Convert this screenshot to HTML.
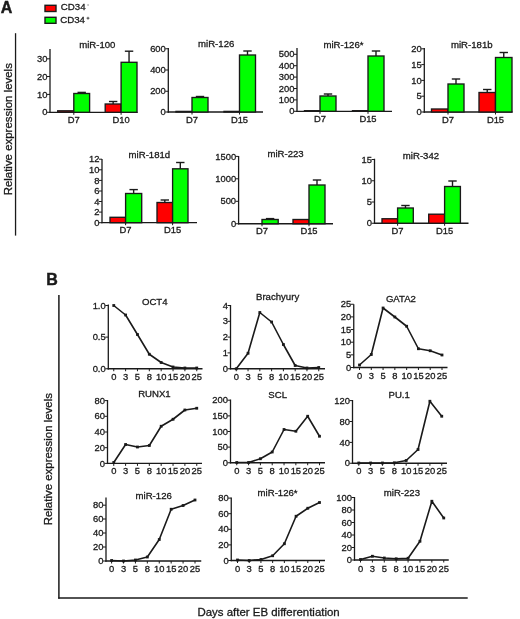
<!DOCTYPE html>
<html><head><meta charset="utf-8"><style>
html,body{margin:0;padding:0;background:#fff;}
body{width:520px;height:619px;overflow:hidden;}
svg{display:block;will-change:transform;filter:blur(0.35px);}
text{font-family:"Liberation Sans", sans-serif;fill:#1a1a1a;stroke:#1a1a1a;stroke-width:0.3px;}
</style></head><body>
<svg width="520" height="619" viewBox="0 0 520 619">
<text x="0.8" y="12.6" font-size="16" text-anchor="start" font-weight="bold" style="stroke-width:0.45px">A</text>
<rect x="45" y="5.3" width="11" height="6.2" fill="#ff0000" stroke="#1a1a1a" stroke-width="1.4"/>
<rect x="45" y="17.3" width="11" height="6.0" fill="#00ff00" stroke="#1a1a1a" stroke-width="1.4"/>
<text x="60.8" y="10.4" font-size="9.7" text-anchor="start" font-weight="normal" >CD34</text>
<text x="60.2" y="23.4" font-size="9.7" text-anchor="start" font-weight="normal" >CD34</text>
<line x1="87.2" y1="5.0" x2="89.0" y2="5.0" stroke="#888" stroke-width="0.9"/>
<line x1="86.6" y1="18.2" x2="89.4" y2="18.2" stroke="#444" stroke-width="1.0"/>
<line x1="88.0" y1="16.8" x2="88.0" y2="19.6" stroke="#444" stroke-width="1.0"/>
<line x1="15.55" y1="33.2" x2="15.55" y2="235.6" stroke="#1a1a1a" stroke-width="1.3"/>
<text x="0" y="0" font-size="11.45" text-anchor="middle" font-weight="normal" transform="translate(12,129.25) rotate(-90)">Relative expression levels</text>
<line x1="50" y1="49" x2="50" y2="112.95" stroke="#1a1a1a" stroke-width="1.3"/>
<line x1="49.35" y1="112.3" x2="137.5" y2="112.3" stroke="#1a1a1a" stroke-width="1.3"/>
<line x1="47" y1="112.3" x2="50" y2="112.3" stroke="#1a1a1a" stroke-width="1.0"/>
<text x="47.5" y="115.39999999999999" font-size="9.4" text-anchor="end" font-weight="normal" >0</text>
<line x1="47" y1="94.4" x2="50" y2="94.4" stroke="#1a1a1a" stroke-width="1.0"/>
<text x="47.5" y="97.5" font-size="9.4" text-anchor="end" font-weight="normal" >10</text>
<line x1="47" y1="76.5" x2="50" y2="76.5" stroke="#1a1a1a" stroke-width="1.0"/>
<text x="47.5" y="79.6" font-size="9.4" text-anchor="end" font-weight="normal" >20</text>
<line x1="47" y1="58.8" x2="50" y2="58.8" stroke="#1a1a1a" stroke-width="1.0"/>
<text x="47.5" y="61.9" font-size="9.4" text-anchor="end" font-weight="normal" >30</text>
<text x="97.3" y="48.4" font-size="9.6" text-anchor="middle" font-weight="normal" >miR-100</text>
<rect x="57.7" y="110.8" width="16.099999999999994" height="1.5" fill="#ff0000" stroke="#1a1a1a" stroke-width="1.35"/>
<rect x="73.8" y="93.5" width="15.799999999999997" height="18.799999999999997" fill="#00ff00" stroke="#1a1a1a" stroke-width="1.35"/>
<line x1="81.69999999999999" y1="93.5" x2="81.69999999999999" y2="92.4" stroke="#1a1a1a" stroke-width="1.4"/>
<line x1="77.49999999999999" y1="92.4" x2="85.89999999999999" y2="92.4" stroke="#1a1a1a" stroke-width="1.4"/>
<line x1="73.8" y1="112.3" x2="73.8" y2="114.8" stroke="#1a1a1a" stroke-width="1.0"/>
<text x="73.8" y="122.7" font-size="9.4" text-anchor="middle" font-weight="normal" >D7</text>
<rect x="105.2" y="104.0" width="15.899999999999991" height="8.299999999999997" fill="#ff0000" stroke="#1a1a1a" stroke-width="1.35"/>
<line x1="113.15" y1="104.0" x2="113.15" y2="101.5" stroke="#1a1a1a" stroke-width="1.4"/>
<line x1="108.95" y1="101.5" x2="117.35000000000001" y2="101.5" stroke="#1a1a1a" stroke-width="1.4"/>
<rect x="121.1" y="62.3" width="15.900000000000006" height="50.0" fill="#00ff00" stroke="#1a1a1a" stroke-width="1.35"/>
<line x1="129.05" y1="62.3" x2="129.05" y2="51.2" stroke="#1a1a1a" stroke-width="1.4"/>
<line x1="124.85000000000001" y1="51.2" x2="133.25" y2="51.2" stroke="#1a1a1a" stroke-width="1.4"/>
<line x1="121.1" y1="112.3" x2="121.1" y2="114.8" stroke="#1a1a1a" stroke-width="1.0"/>
<text x="121.1" y="122.7" font-size="9.4" text-anchor="middle" font-weight="normal" >D10</text>
<line x1="168.3" y1="48" x2="168.3" y2="112.65" stroke="#1a1a1a" stroke-width="1.3"/>
<line x1="167.65" y1="112.0" x2="263" y2="112.0" stroke="#1a1a1a" stroke-width="1.3"/>
<line x1="165.3" y1="112" x2="168.3" y2="112" stroke="#1a1a1a" stroke-width="1.0"/>
<text x="165.8" y="115.1" font-size="9.4" text-anchor="end" font-weight="normal" >0</text>
<line x1="165.3" y1="91.25" x2="168.3" y2="91.25" stroke="#1a1a1a" stroke-width="1.0"/>
<text x="165.8" y="94.35" font-size="9.4" text-anchor="end" font-weight="normal" >200</text>
<line x1="165.3" y1="70" x2="168.3" y2="70" stroke="#1a1a1a" stroke-width="1.0"/>
<text x="165.8" y="73.1" font-size="9.4" text-anchor="end" font-weight="normal" >400</text>
<line x1="165.3" y1="48.75" x2="168.3" y2="48.75" stroke="#1a1a1a" stroke-width="1.0"/>
<text x="165.8" y="51.85" font-size="9.4" text-anchor="end" font-weight="normal" >600</text>
<text x="216.2" y="47" font-size="9.6" text-anchor="middle" font-weight="normal" >miR-126</text>
<rect x="176" y="111.4" width="16" height="0.5999999999999943" fill="#ff0000" stroke="#1a1a1a" stroke-width="1.35"/>
<rect x="192" y="97.5" width="16" height="14.5" fill="#00ff00" stroke="#1a1a1a" stroke-width="1.35"/>
<line x1="200.0" y1="97.5" x2="200.0" y2="96.5" stroke="#1a1a1a" stroke-width="1.4"/>
<line x1="195.8" y1="96.5" x2="204.2" y2="96.5" stroke="#1a1a1a" stroke-width="1.4"/>
<line x1="192" y1="112.0" x2="192" y2="114.5" stroke="#1a1a1a" stroke-width="1.0"/>
<text x="192" y="122.7" font-size="9.4" text-anchor="middle" font-weight="normal" >D7</text>
<rect x="224" y="111.4" width="15.5" height="0.5999999999999943" fill="#ff0000" stroke="#1a1a1a" stroke-width="1.35"/>
<rect x="239.5" y="55" width="16.0" height="57.0" fill="#00ff00" stroke="#1a1a1a" stroke-width="1.35"/>
<line x1="247.5" y1="55" x2="247.5" y2="51" stroke="#1a1a1a" stroke-width="1.4"/>
<line x1="243.3" y1="51" x2="251.7" y2="51" stroke="#1a1a1a" stroke-width="1.4"/>
<line x1="239.5" y1="112.0" x2="239.5" y2="114.5" stroke="#1a1a1a" stroke-width="1.0"/>
<text x="239.5" y="122.7" font-size="9.4" text-anchor="middle" font-weight="normal" >D15</text>
<line x1="297" y1="48" x2="297" y2="111.95" stroke="#1a1a1a" stroke-width="1.3"/>
<line x1="296.35" y1="111.3" x2="392" y2="111.3" stroke="#1a1a1a" stroke-width="1.3"/>
<line x1="294" y1="111.3" x2="297" y2="111.3" stroke="#1a1a1a" stroke-width="1.0"/>
<text x="294.5" y="114.39999999999999" font-size="9.4" text-anchor="end" font-weight="normal" >0</text>
<line x1="294" y1="99.9" x2="297" y2="99.9" stroke="#1a1a1a" stroke-width="1.0"/>
<text x="294.5" y="103.0" font-size="9.4" text-anchor="end" font-weight="normal" >100</text>
<line x1="294" y1="88.5" x2="297" y2="88.5" stroke="#1a1a1a" stroke-width="1.0"/>
<text x="294.5" y="91.6" font-size="9.4" text-anchor="end" font-weight="normal" >200</text>
<line x1="294" y1="77.1" x2="297" y2="77.1" stroke="#1a1a1a" stroke-width="1.0"/>
<text x="294.5" y="80.19999999999999" font-size="9.4" text-anchor="end" font-weight="normal" >300</text>
<line x1="294" y1="65.7" x2="297" y2="65.7" stroke="#1a1a1a" stroke-width="1.0"/>
<text x="294.5" y="68.8" font-size="9.4" text-anchor="end" font-weight="normal" >400</text>
<line x1="294" y1="54.3" x2="297" y2="54.3" stroke="#1a1a1a" stroke-width="1.0"/>
<text x="294.5" y="57.4" font-size="9.4" text-anchor="end" font-weight="normal" >500</text>
<text x="343.5" y="48" font-size="9.6" text-anchor="middle" font-weight="normal" >miR-126*</text>
<rect x="304.5" y="110.7" width="15.5" height="0.5999999999999943" fill="#ff0000" stroke="#1a1a1a" stroke-width="1.35"/>
<rect x="320" y="96" width="16" height="15.299999999999997" fill="#00ff00" stroke="#1a1a1a" stroke-width="1.35"/>
<line x1="328.0" y1="96" x2="328.0" y2="94" stroke="#1a1a1a" stroke-width="1.4"/>
<line x1="323.8" y1="94" x2="332.2" y2="94" stroke="#1a1a1a" stroke-width="1.4"/>
<line x1="320" y1="111.3" x2="320" y2="113.8" stroke="#1a1a1a" stroke-width="1.0"/>
<text x="320" y="122.0" font-size="9.4" text-anchor="middle" font-weight="normal" >D7</text>
<rect x="352.5" y="110.7" width="15.5" height="0.5999999999999943" fill="#ff0000" stroke="#1a1a1a" stroke-width="1.35"/>
<rect x="368" y="56" width="16" height="55.3" fill="#00ff00" stroke="#1a1a1a" stroke-width="1.35"/>
<line x1="376.0" y1="56" x2="376.0" y2="51" stroke="#1a1a1a" stroke-width="1.4"/>
<line x1="371.8" y1="51" x2="380.2" y2="51" stroke="#1a1a1a" stroke-width="1.4"/>
<line x1="368" y1="111.3" x2="368" y2="113.8" stroke="#1a1a1a" stroke-width="1.0"/>
<text x="368" y="122.0" font-size="9.4" text-anchor="middle" font-weight="normal" >D15</text>
<line x1="424.3" y1="48" x2="424.3" y2="112.65" stroke="#1a1a1a" stroke-width="1.3"/>
<line x1="423.65000000000003" y1="112.0" x2="512.5" y2="112.0" stroke="#1a1a1a" stroke-width="1.3"/>
<line x1="421.3" y1="112" x2="424.3" y2="112" stroke="#1a1a1a" stroke-width="1.0"/>
<text x="421.8" y="115.1" font-size="9.4" text-anchor="end" font-weight="normal" >0</text>
<line x1="421.3" y1="96.2" x2="424.3" y2="96.2" stroke="#1a1a1a" stroke-width="1.0"/>
<text x="421.8" y="99.3" font-size="9.4" text-anchor="end" font-weight="normal" >5</text>
<line x1="421.3" y1="80.4" x2="424.3" y2="80.4" stroke="#1a1a1a" stroke-width="1.0"/>
<text x="421.8" y="83.5" font-size="9.4" text-anchor="end" font-weight="normal" >10</text>
<line x1="421.3" y1="64.6" x2="424.3" y2="64.6" stroke="#1a1a1a" stroke-width="1.0"/>
<text x="421.8" y="67.69999999999999" font-size="9.4" text-anchor="end" font-weight="normal" >15</text>
<line x1="421.3" y1="48.8" x2="424.3" y2="48.8" stroke="#1a1a1a" stroke-width="1.0"/>
<text x="421.8" y="51.9" font-size="9.4" text-anchor="end" font-weight="normal" >20</text>
<text x="471.8" y="48" font-size="9.6" text-anchor="middle" font-weight="normal" >miR-181b</text>
<rect x="431.5" y="109" width="16.5" height="3.0" fill="#ff0000" stroke="#1a1a1a" stroke-width="1.35"/>
<rect x="448" y="84" width="16" height="28.0" fill="#00ff00" stroke="#1a1a1a" stroke-width="1.35"/>
<line x1="456.0" y1="84" x2="456.0" y2="79" stroke="#1a1a1a" stroke-width="1.4"/>
<line x1="451.8" y1="79" x2="460.2" y2="79" stroke="#1a1a1a" stroke-width="1.4"/>
<line x1="448" y1="112.0" x2="448" y2="114.5" stroke="#1a1a1a" stroke-width="1.0"/>
<text x="448" y="122.7" font-size="9.4" text-anchor="middle" font-weight="normal" >D7</text>
<rect x="479" y="92.5" width="16.5" height="19.5" fill="#ff0000" stroke="#1a1a1a" stroke-width="1.35"/>
<line x1="487.25" y1="92.5" x2="487.25" y2="89.5" stroke="#1a1a1a" stroke-width="1.4"/>
<line x1="483.05" y1="89.5" x2="491.45" y2="89.5" stroke="#1a1a1a" stroke-width="1.4"/>
<rect x="495.5" y="57.5" width="16.5" height="54.5" fill="#00ff00" stroke="#1a1a1a" stroke-width="1.35"/>
<line x1="503.75" y1="57.5" x2="503.75" y2="52.5" stroke="#1a1a1a" stroke-width="1.4"/>
<line x1="499.55" y1="52.5" x2="507.95" y2="52.5" stroke="#1a1a1a" stroke-width="1.4"/>
<line x1="495.5" y1="112.0" x2="495.5" y2="114.5" stroke="#1a1a1a" stroke-width="1.0"/>
<text x="495.5" y="122.7" font-size="9.4" text-anchor="middle" font-weight="normal" >D15</text>
<line x1="102" y1="159" x2="102" y2="223.35" stroke="#1a1a1a" stroke-width="1.3"/>
<line x1="101.35" y1="222.7" x2="197" y2="222.7" stroke="#1a1a1a" stroke-width="1.3"/>
<line x1="99" y1="222.7" x2="102" y2="222.7" stroke="#1a1a1a" stroke-width="1.0"/>
<text x="99.5" y="225.79999999999998" font-size="9.4" text-anchor="end" font-weight="normal" >0</text>
<line x1="99" y1="212.1" x2="102" y2="212.1" stroke="#1a1a1a" stroke-width="1.0"/>
<text x="99.5" y="215.2" font-size="9.4" text-anchor="end" font-weight="normal" >2</text>
<line x1="99" y1="201.5" x2="102" y2="201.5" stroke="#1a1a1a" stroke-width="1.0"/>
<text x="99.5" y="204.6" font-size="9.4" text-anchor="end" font-weight="normal" >4</text>
<line x1="99" y1="191" x2="102" y2="191" stroke="#1a1a1a" stroke-width="1.0"/>
<text x="99.5" y="194.1" font-size="9.4" text-anchor="end" font-weight="normal" >6</text>
<line x1="99" y1="180.4" x2="102" y2="180.4" stroke="#1a1a1a" stroke-width="1.0"/>
<text x="99.5" y="183.5" font-size="9.4" text-anchor="end" font-weight="normal" >8</text>
<line x1="99" y1="169.8" x2="102" y2="169.8" stroke="#1a1a1a" stroke-width="1.0"/>
<text x="99.5" y="172.9" font-size="9.4" text-anchor="end" font-weight="normal" >10</text>
<line x1="99" y1="159.2" x2="102" y2="159.2" stroke="#1a1a1a" stroke-width="1.0"/>
<text x="99.5" y="162.29999999999998" font-size="9.4" text-anchor="end" font-weight="normal" >12</text>
<text x="149.4" y="158.3" font-size="9.6" text-anchor="middle" font-weight="normal" >miR-181d</text>
<rect x="110" y="217.3" width="15.599999999999994" height="5.399999999999977" fill="#ff0000" stroke="#1a1a1a" stroke-width="1.35"/>
<rect x="125.6" y="193.5" width="16.099999999999994" height="29.19999999999999" fill="#00ff00" stroke="#1a1a1a" stroke-width="1.35"/>
<line x1="133.64999999999998" y1="193.5" x2="133.64999999999998" y2="189.6" stroke="#1a1a1a" stroke-width="1.4"/>
<line x1="129.45" y1="189.6" x2="137.84999999999997" y2="189.6" stroke="#1a1a1a" stroke-width="1.4"/>
<line x1="125.6" y1="222.7" x2="125.6" y2="225.2" stroke="#1a1a1a" stroke-width="1.0"/>
<text x="125.6" y="233.3" font-size="9.4" text-anchor="middle" font-weight="normal" >D7</text>
<rect x="157" y="202.5" width="15.599999999999994" height="20.19999999999999" fill="#ff0000" stroke="#1a1a1a" stroke-width="1.35"/>
<line x1="164.8" y1="202.5" x2="164.8" y2="200" stroke="#1a1a1a" stroke-width="1.4"/>
<line x1="160.60000000000002" y1="200" x2="169.0" y2="200" stroke="#1a1a1a" stroke-width="1.4"/>
<rect x="172.6" y="168.8" width="15.400000000000006" height="53.89999999999998" fill="#00ff00" stroke="#1a1a1a" stroke-width="1.35"/>
<line x1="180.3" y1="168.8" x2="180.3" y2="162.5" stroke="#1a1a1a" stroke-width="1.4"/>
<line x1="176.10000000000002" y1="162.5" x2="184.5" y2="162.5" stroke="#1a1a1a" stroke-width="1.4"/>
<line x1="172.6" y1="222.7" x2="172.6" y2="225.2" stroke="#1a1a1a" stroke-width="1.0"/>
<text x="172.6" y="233.3" font-size="9.4" text-anchor="middle" font-weight="normal" >D15</text>
<line x1="238.6" y1="156" x2="238.6" y2="224.4" stroke="#1a1a1a" stroke-width="1.3"/>
<line x1="237.95" y1="223.75" x2="333" y2="223.75" stroke="#1a1a1a" stroke-width="1.3"/>
<line x1="235.6" y1="223.75" x2="238.6" y2="223.75" stroke="#1a1a1a" stroke-width="1.0"/>
<text x="236.1" y="226.85" font-size="9.4" text-anchor="end" font-weight="normal" >0</text>
<line x1="235.6" y1="201.3" x2="238.6" y2="201.3" stroke="#1a1a1a" stroke-width="1.0"/>
<text x="236.1" y="204.4" font-size="9.4" text-anchor="end" font-weight="normal" >500</text>
<line x1="235.6" y1="178.8" x2="238.6" y2="178.8" stroke="#1a1a1a" stroke-width="1.0"/>
<text x="236.1" y="181.9" font-size="9.4" text-anchor="end" font-weight="normal" >1000</text>
<line x1="235.6" y1="156.4" x2="238.6" y2="156.4" stroke="#1a1a1a" stroke-width="1.0"/>
<text x="236.1" y="159.5" font-size="9.4" text-anchor="end" font-weight="normal" >1500</text>
<text x="285.6" y="157" font-size="9.6" text-anchor="middle" font-weight="normal" >miR-223</text>
<rect x="262" y="219.5" width="16.19999999999999" height="4.25" fill="#00ff00" stroke="#1a1a1a" stroke-width="1.35"/>
<line x1="270.1" y1="219.5" x2="270.1" y2="218.6" stroke="#1a1a1a" stroke-width="1.4"/>
<line x1="265.90000000000003" y1="218.6" x2="274.3" y2="218.6" stroke="#1a1a1a" stroke-width="1.4"/>
<line x1="262" y1="223.75" x2="262" y2="226.25" stroke="#1a1a1a" stroke-width="1.0"/>
<text x="262" y="233.5" font-size="9.4" text-anchor="middle" font-weight="normal" >D7</text>
<rect x="293" y="219.5" width="16" height="4.25" fill="#ff0000" stroke="#1a1a1a" stroke-width="1.35"/>
<rect x="309" y="185" width="16" height="38.75" fill="#00ff00" stroke="#1a1a1a" stroke-width="1.35"/>
<line x1="317.0" y1="185" x2="317.0" y2="180" stroke="#1a1a1a" stroke-width="1.4"/>
<line x1="312.8" y1="180" x2="321.2" y2="180" stroke="#1a1a1a" stroke-width="1.4"/>
<line x1="309" y1="223.75" x2="309" y2="226.25" stroke="#1a1a1a" stroke-width="1.0"/>
<text x="309" y="233.5" font-size="9.4" text-anchor="middle" font-weight="normal" >D15</text>
<line x1="374.5" y1="158.75" x2="374.5" y2="223.9" stroke="#1a1a1a" stroke-width="1.3"/>
<line x1="373.85" y1="223.25" x2="468.5" y2="223.25" stroke="#1a1a1a" stroke-width="1.3"/>
<line x1="371.5" y1="223.25" x2="374.5" y2="223.25" stroke="#1a1a1a" stroke-width="1.0"/>
<text x="372.0" y="226.35" font-size="9.4" text-anchor="end" font-weight="normal" >0</text>
<line x1="371.5" y1="202" x2="374.5" y2="202" stroke="#1a1a1a" stroke-width="1.0"/>
<text x="372.0" y="205.1" font-size="9.4" text-anchor="end" font-weight="normal" >5</text>
<line x1="371.5" y1="180.75" x2="374.5" y2="180.75" stroke="#1a1a1a" stroke-width="1.0"/>
<text x="372.0" y="183.85" font-size="9.4" text-anchor="end" font-weight="normal" >10</text>
<line x1="371.5" y1="159.5" x2="374.5" y2="159.5" stroke="#1a1a1a" stroke-width="1.0"/>
<text x="372.0" y="162.6" font-size="9.4" text-anchor="end" font-weight="normal" >15</text>
<text x="421" y="158.6" font-size="9.6" text-anchor="middle" font-weight="normal" >miR-342</text>
<rect x="382" y="218.75" width="15.600000000000023" height="4.5" fill="#ff0000" stroke="#1a1a1a" stroke-width="1.35"/>
<rect x="397.6" y="208" width="15.699999999999989" height="15.25" fill="#00ff00" stroke="#1a1a1a" stroke-width="1.35"/>
<line x1="405.45000000000005" y1="208" x2="405.45000000000005" y2="205.5" stroke="#1a1a1a" stroke-width="1.4"/>
<line x1="401.25000000000006" y1="205.5" x2="409.65000000000003" y2="205.5" stroke="#1a1a1a" stroke-width="1.4"/>
<line x1="397.6" y1="223.25" x2="397.6" y2="225.75" stroke="#1a1a1a" stroke-width="1.0"/>
<text x="397.6" y="234" font-size="9.4" text-anchor="middle" font-weight="normal" >D7</text>
<rect x="428.7" y="214.2" width="15.900000000000034" height="9.050000000000011" fill="#ff0000" stroke="#1a1a1a" stroke-width="1.35"/>
<rect x="444.6" y="186.5" width="15.799999999999955" height="36.75" fill="#00ff00" stroke="#1a1a1a" stroke-width="1.35"/>
<line x1="452.5" y1="186.5" x2="452.5" y2="181" stroke="#1a1a1a" stroke-width="1.4"/>
<line x1="448.3" y1="181" x2="456.7" y2="181" stroke="#1a1a1a" stroke-width="1.4"/>
<line x1="444.6" y1="223.25" x2="444.6" y2="225.75" stroke="#1a1a1a" stroke-width="1.0"/>
<text x="444.6" y="234" font-size="9.4" text-anchor="middle" font-weight="normal" >D15</text>
<text x="46.2" y="284.7" font-size="16" text-anchor="start" font-weight="bold" style="stroke-width:0.45px">B</text>
<line x1="58.9" y1="295" x2="58.9" y2="598.7" stroke="#1a1a1a" stroke-width="1.5"/>
<line x1="58.3" y1="598" x2="467.7" y2="598" stroke="#1a1a1a" stroke-width="1.4"/>
<text x="0" y="0" font-size="11.45" text-anchor="middle" font-weight="normal" transform="translate(51.85,459.2) rotate(-90)">Relative expression levels</text>
<text x="197.5" y="616.2" font-size="11.45" text-anchor="start" font-weight="normal" >Days after EB differentiation</text>
<line x1="108.3" y1="304.5" x2="108.3" y2="369.4" stroke="#1a1a1a" stroke-width="1.3"/>
<line x1="107.64999999999999" y1="368.75" x2="202.5" y2="368.75" stroke="#1a1a1a" stroke-width="1.3"/>
<line x1="105.3" y1="368.75" x2="108.3" y2="368.75" stroke="#1a1a1a" stroke-width="1.0"/>
<text x="105.7" y="371.85" font-size="9.4" text-anchor="end" font-weight="normal" >0.0</text>
<line x1="105.3" y1="337.1" x2="108.3" y2="337.1" stroke="#1a1a1a" stroke-width="1.0"/>
<text x="105.7" y="340.20000000000005" font-size="9.4" text-anchor="end" font-weight="normal" >0.5</text>
<line x1="105.3" y1="305.5" x2="108.3" y2="305.5" stroke="#1a1a1a" stroke-width="1.0"/>
<text x="105.7" y="308.6" font-size="9.4" text-anchor="end" font-weight="normal" >1.0</text>
<line x1="113.75" y1="368.75" x2="113.75" y2="371.25" stroke="#1a1a1a" stroke-width="1.0"/>
<text x="113.75" y="379.5" font-size="9.4" text-anchor="middle" font-weight="normal" >0</text>
<line x1="125.60714285714286" y1="368.75" x2="125.60714285714286" y2="371.25" stroke="#1a1a1a" stroke-width="1.0"/>
<text x="125.60714285714286" y="379.5" font-size="9.4" text-anchor="middle" font-weight="normal" >3</text>
<line x1="137.46428571428572" y1="368.75" x2="137.46428571428572" y2="371.25" stroke="#1a1a1a" stroke-width="1.0"/>
<text x="137.46428571428572" y="379.5" font-size="9.4" text-anchor="middle" font-weight="normal" >5</text>
<line x1="149.32142857142856" y1="368.75" x2="149.32142857142856" y2="371.25" stroke="#1a1a1a" stroke-width="1.0"/>
<text x="149.32142857142856" y="379.5" font-size="9.4" text-anchor="middle" font-weight="normal" >8</text>
<line x1="161.17857142857144" y1="368.75" x2="161.17857142857144" y2="371.25" stroke="#1a1a1a" stroke-width="1.0"/>
<text x="161.17857142857144" y="379.5" font-size="9.4" text-anchor="middle" font-weight="normal" >10</text>
<line x1="173.03571428571428" y1="368.75" x2="173.03571428571428" y2="371.25" stroke="#1a1a1a" stroke-width="1.0"/>
<text x="173.03571428571428" y="379.5" font-size="9.4" text-anchor="middle" font-weight="normal" >15</text>
<line x1="184.89285714285714" y1="368.75" x2="184.89285714285714" y2="371.25" stroke="#1a1a1a" stroke-width="1.0"/>
<text x="184.89285714285714" y="379.5" font-size="9.4" text-anchor="middle" font-weight="normal" >20</text>
<line x1="196.75" y1="368.75" x2="196.75" y2="371.25" stroke="#1a1a1a" stroke-width="1.0"/>
<text x="196.75" y="379.5" font-size="9.4" text-anchor="middle" font-weight="normal" >25</text>
<polyline points="113.75,305.50 125.61,315.00 137.46,334.50 149.32,354.25 161.18,362.50 173.04,367.00 184.89,368.00 196.75,368.00" fill="none" stroke="#1a1a1a" stroke-width="1.6" stroke-linejoin="round"/>
<rect x="112.35" y="304.10" width="2.8" height="2.8" fill="#1a1a1a"/>
<rect x="124.21" y="313.60" width="2.8" height="2.8" fill="#1a1a1a"/>
<rect x="136.06" y="333.10" width="2.8" height="2.8" fill="#1a1a1a"/>
<rect x="147.92" y="352.85" width="2.8" height="2.8" fill="#1a1a1a"/>
<rect x="159.78" y="361.10" width="2.8" height="2.8" fill="#1a1a1a"/>
<rect x="171.64" y="365.60" width="2.8" height="2.8" fill="#1a1a1a"/>
<rect x="183.49" y="366.60" width="2.8" height="2.8" fill="#1a1a1a"/>
<rect x="195.35" y="366.60" width="2.8" height="2.8" fill="#1a1a1a"/>
<text x="154.75" y="305.2" font-size="9.6" text-anchor="middle" font-weight="normal" >OCT4</text>
<line x1="230.5" y1="305" x2="230.5" y2="369.4" stroke="#1a1a1a" stroke-width="1.3"/>
<line x1="229.85" y1="368.75" x2="325" y2="368.75" stroke="#1a1a1a" stroke-width="1.3"/>
<line x1="227.5" y1="368.75" x2="230.5" y2="368.75" stroke="#1a1a1a" stroke-width="1.0"/>
<text x="227.9" y="371.85" font-size="9.4" text-anchor="end" font-weight="normal" >0</text>
<line x1="227.5" y1="352.9" x2="230.5" y2="352.9" stroke="#1a1a1a" stroke-width="1.0"/>
<text x="227.9" y="356.0" font-size="9.4" text-anchor="end" font-weight="normal" >1</text>
<line x1="227.5" y1="337.1" x2="230.5" y2="337.1" stroke="#1a1a1a" stroke-width="1.0"/>
<text x="227.9" y="340.20000000000005" font-size="9.4" text-anchor="end" font-weight="normal" >2</text>
<line x1="227.5" y1="321.3" x2="230.5" y2="321.3" stroke="#1a1a1a" stroke-width="1.0"/>
<text x="227.9" y="324.40000000000003" font-size="9.4" text-anchor="end" font-weight="normal" >3</text>
<line x1="227.5" y1="305.5" x2="230.5" y2="305.5" stroke="#1a1a1a" stroke-width="1.0"/>
<text x="227.9" y="308.6" font-size="9.4" text-anchor="end" font-weight="normal" >4</text>
<line x1="236.25" y1="368.75" x2="236.25" y2="371.25" stroke="#1a1a1a" stroke-width="1.0"/>
<text x="236.25" y="379.5" font-size="9.4" text-anchor="middle" font-weight="normal" >0</text>
<line x1="248.03571428571428" y1="368.75" x2="248.03571428571428" y2="371.25" stroke="#1a1a1a" stroke-width="1.0"/>
<text x="248.03571428571428" y="379.5" font-size="9.4" text-anchor="middle" font-weight="normal" >3</text>
<line x1="259.82142857142856" y1="368.75" x2="259.82142857142856" y2="371.25" stroke="#1a1a1a" stroke-width="1.0"/>
<text x="259.82142857142856" y="379.5" font-size="9.4" text-anchor="middle" font-weight="normal" >5</text>
<line x1="271.6071428571429" y1="368.75" x2="271.6071428571429" y2="371.25" stroke="#1a1a1a" stroke-width="1.0"/>
<text x="271.6071428571429" y="379.5" font-size="9.4" text-anchor="middle" font-weight="normal" >8</text>
<line x1="283.39285714285717" y1="368.75" x2="283.39285714285717" y2="371.25" stroke="#1a1a1a" stroke-width="1.0"/>
<text x="283.39285714285717" y="379.5" font-size="9.4" text-anchor="middle" font-weight="normal" >10</text>
<line x1="295.17857142857144" y1="368.75" x2="295.17857142857144" y2="371.25" stroke="#1a1a1a" stroke-width="1.0"/>
<text x="295.17857142857144" y="379.5" font-size="9.4" text-anchor="middle" font-weight="normal" >15</text>
<line x1="306.9642857142857" y1="368.75" x2="306.9642857142857" y2="371.25" stroke="#1a1a1a" stroke-width="1.0"/>
<text x="306.9642857142857" y="379.5" font-size="9.4" text-anchor="middle" font-weight="normal" >20</text>
<line x1="318.75" y1="368.75" x2="318.75" y2="371.25" stroke="#1a1a1a" stroke-width="1.0"/>
<text x="318.75" y="379.5" font-size="9.4" text-anchor="middle" font-weight="normal" >25</text>
<polyline points="236.25,368.75 248.04,353.25 259.82,312.50 271.61,322.00 283.39,344.50 295.18,365.50 306.96,368.00 318.75,367.50" fill="none" stroke="#1a1a1a" stroke-width="1.6" stroke-linejoin="round"/>
<rect x="234.85" y="367.35" width="2.8" height="2.8" fill="#1a1a1a"/>
<rect x="246.64" y="351.85" width="2.8" height="2.8" fill="#1a1a1a"/>
<rect x="258.42" y="311.10" width="2.8" height="2.8" fill="#1a1a1a"/>
<rect x="270.21" y="320.60" width="2.8" height="2.8" fill="#1a1a1a"/>
<rect x="281.99" y="343.10" width="2.8" height="2.8" fill="#1a1a1a"/>
<rect x="293.78" y="364.10" width="2.8" height="2.8" fill="#1a1a1a"/>
<rect x="305.56" y="366.60" width="2.8" height="2.8" fill="#1a1a1a"/>
<rect x="317.35" y="366.10" width="2.8" height="2.8" fill="#1a1a1a"/>
<text x="277.6" y="300" font-size="9.6" text-anchor="middle" font-weight="normal" >Brachyury</text>
<line x1="353.75" y1="304.25" x2="353.75" y2="368.15" stroke="#1a1a1a" stroke-width="1.3"/>
<line x1="353.1" y1="367.5" x2="447.5" y2="367.5" stroke="#1a1a1a" stroke-width="1.3"/>
<line x1="350.75" y1="367.5" x2="353.75" y2="367.5" stroke="#1a1a1a" stroke-width="1.0"/>
<text x="351.15" y="370.6" font-size="9.4" text-anchor="end" font-weight="normal" >0</text>
<line x1="350.75" y1="354.85" x2="353.75" y2="354.85" stroke="#1a1a1a" stroke-width="1.0"/>
<text x="351.15" y="357.95000000000005" font-size="9.4" text-anchor="end" font-weight="normal" >5</text>
<line x1="350.75" y1="342.2" x2="353.75" y2="342.2" stroke="#1a1a1a" stroke-width="1.0"/>
<text x="351.15" y="345.3" font-size="9.4" text-anchor="end" font-weight="normal" >10</text>
<line x1="350.75" y1="329.55" x2="353.75" y2="329.55" stroke="#1a1a1a" stroke-width="1.0"/>
<text x="351.15" y="332.65000000000003" font-size="9.4" text-anchor="end" font-weight="normal" >15</text>
<line x1="350.75" y1="316.9" x2="353.75" y2="316.9" stroke="#1a1a1a" stroke-width="1.0"/>
<text x="351.15" y="320.0" font-size="9.4" text-anchor="end" font-weight="normal" >20</text>
<line x1="350.75" y1="304.25" x2="353.75" y2="304.25" stroke="#1a1a1a" stroke-width="1.0"/>
<text x="351.15" y="307.35" font-size="9.4" text-anchor="end" font-weight="normal" >25</text>
<line x1="359.5" y1="367.5" x2="359.5" y2="370.0" stroke="#1a1a1a" stroke-width="1.0"/>
<text x="359.5" y="379.3" font-size="9.4" text-anchor="middle" font-weight="normal" >0</text>
<line x1="371.2857142857143" y1="367.5" x2="371.2857142857143" y2="370.0" stroke="#1a1a1a" stroke-width="1.0"/>
<text x="371.2857142857143" y="379.3" font-size="9.4" text-anchor="middle" font-weight="normal" >3</text>
<line x1="383.07142857142856" y1="367.5" x2="383.07142857142856" y2="370.0" stroke="#1a1a1a" stroke-width="1.0"/>
<text x="383.07142857142856" y="379.3" font-size="9.4" text-anchor="middle" font-weight="normal" >5</text>
<line x1="394.8571428571429" y1="367.5" x2="394.8571428571429" y2="370.0" stroke="#1a1a1a" stroke-width="1.0"/>
<text x="394.8571428571429" y="379.3" font-size="9.4" text-anchor="middle" font-weight="normal" >8</text>
<line x1="406.64285714285717" y1="367.5" x2="406.64285714285717" y2="370.0" stroke="#1a1a1a" stroke-width="1.0"/>
<text x="406.64285714285717" y="379.3" font-size="9.4" text-anchor="middle" font-weight="normal" >10</text>
<line x1="418.42857142857144" y1="367.5" x2="418.42857142857144" y2="370.0" stroke="#1a1a1a" stroke-width="1.0"/>
<text x="418.42857142857144" y="379.3" font-size="9.4" text-anchor="middle" font-weight="normal" >15</text>
<line x1="430.2142857142857" y1="367.5" x2="430.2142857142857" y2="370.0" stroke="#1a1a1a" stroke-width="1.0"/>
<text x="430.2142857142857" y="379.3" font-size="9.4" text-anchor="middle" font-weight="normal" >20</text>
<line x1="442.0" y1="367.5" x2="442.0" y2="370.0" stroke="#1a1a1a" stroke-width="1.0"/>
<text x="442.0" y="379.3" font-size="9.4" text-anchor="middle" font-weight="normal" >25</text>
<polyline points="359.50,365.00 371.29,354.50 383.07,308.00 394.86,317.00 406.64,326.25 418.43,348.75 430.21,350.75 442.00,355.00" fill="none" stroke="#1a1a1a" stroke-width="1.6" stroke-linejoin="round"/>
<rect x="358.10" y="363.60" width="2.8" height="2.8" fill="#1a1a1a"/>
<rect x="369.89" y="353.10" width="2.8" height="2.8" fill="#1a1a1a"/>
<rect x="381.67" y="306.60" width="2.8" height="2.8" fill="#1a1a1a"/>
<rect x="393.46" y="315.60" width="2.8" height="2.8" fill="#1a1a1a"/>
<rect x="405.24" y="324.85" width="2.8" height="2.8" fill="#1a1a1a"/>
<rect x="417.03" y="347.35" width="2.8" height="2.8" fill="#1a1a1a"/>
<rect x="428.81" y="349.35" width="2.8" height="2.8" fill="#1a1a1a"/>
<rect x="440.60" y="353.60" width="2.8" height="2.8" fill="#1a1a1a"/>
<text x="400.9" y="302.0" font-size="9.6" text-anchor="middle" font-weight="normal" >GATA2</text>
<line x1="107.5" y1="400" x2="107.5" y2="464.04999999999995" stroke="#1a1a1a" stroke-width="1.3"/>
<line x1="106.85" y1="463.4" x2="202" y2="463.4" stroke="#1a1a1a" stroke-width="1.3"/>
<line x1="104.5" y1="463.4" x2="107.5" y2="463.4" stroke="#1a1a1a" stroke-width="1.0"/>
<text x="104.9" y="466.5" font-size="9.4" text-anchor="end" font-weight="normal" >0</text>
<line x1="104.5" y1="447.7" x2="107.5" y2="447.7" stroke="#1a1a1a" stroke-width="1.0"/>
<text x="104.9" y="450.8" font-size="9.4" text-anchor="end" font-weight="normal" >20</text>
<line x1="104.5" y1="432" x2="107.5" y2="432" stroke="#1a1a1a" stroke-width="1.0"/>
<text x="104.9" y="435.1" font-size="9.4" text-anchor="end" font-weight="normal" >40</text>
<line x1="104.5" y1="416.3" x2="107.5" y2="416.3" stroke="#1a1a1a" stroke-width="1.0"/>
<text x="104.9" y="419.40000000000003" font-size="9.4" text-anchor="end" font-weight="normal" >60</text>
<line x1="104.5" y1="400.6" x2="107.5" y2="400.6" stroke="#1a1a1a" stroke-width="1.0"/>
<text x="104.9" y="403.70000000000005" font-size="9.4" text-anchor="end" font-weight="normal" >80</text>
<line x1="113.75" y1="463.4" x2="113.75" y2="465.9" stroke="#1a1a1a" stroke-width="1.0"/>
<text x="113.75" y="473.8" font-size="9.4" text-anchor="middle" font-weight="normal" >0</text>
<line x1="125.60714285714286" y1="463.4" x2="125.60714285714286" y2="465.9" stroke="#1a1a1a" stroke-width="1.0"/>
<text x="125.60714285714286" y="473.8" font-size="9.4" text-anchor="middle" font-weight="normal" >3</text>
<line x1="137.46428571428572" y1="463.4" x2="137.46428571428572" y2="465.9" stroke="#1a1a1a" stroke-width="1.0"/>
<text x="137.46428571428572" y="473.8" font-size="9.4" text-anchor="middle" font-weight="normal" >5</text>
<line x1="149.32142857142856" y1="463.4" x2="149.32142857142856" y2="465.9" stroke="#1a1a1a" stroke-width="1.0"/>
<text x="149.32142857142856" y="473.8" font-size="9.4" text-anchor="middle" font-weight="normal" >8</text>
<line x1="161.17857142857144" y1="463.4" x2="161.17857142857144" y2="465.9" stroke="#1a1a1a" stroke-width="1.0"/>
<text x="161.17857142857144" y="473.8" font-size="9.4" text-anchor="middle" font-weight="normal" >10</text>
<line x1="173.03571428571428" y1="463.4" x2="173.03571428571428" y2="465.9" stroke="#1a1a1a" stroke-width="1.0"/>
<text x="173.03571428571428" y="473.8" font-size="9.4" text-anchor="middle" font-weight="normal" >15</text>
<line x1="184.89285714285714" y1="463.4" x2="184.89285714285714" y2="465.9" stroke="#1a1a1a" stroke-width="1.0"/>
<text x="184.89285714285714" y="473.8" font-size="9.4" text-anchor="middle" font-weight="normal" >20</text>
<line x1="196.75" y1="463.4" x2="196.75" y2="465.9" stroke="#1a1a1a" stroke-width="1.0"/>
<text x="196.75" y="473.8" font-size="9.4" text-anchor="middle" font-weight="normal" >25</text>
<polyline points="113.75,462.50 125.61,444.50 137.46,447.00 149.32,445.50 161.18,426.25 173.04,419.25 184.89,410.00 196.75,408.25" fill="none" stroke="#1a1a1a" stroke-width="1.6" stroke-linejoin="round"/>
<rect x="112.35" y="461.10" width="2.8" height="2.8" fill="#1a1a1a"/>
<rect x="124.21" y="443.10" width="2.8" height="2.8" fill="#1a1a1a"/>
<rect x="136.06" y="445.60" width="2.8" height="2.8" fill="#1a1a1a"/>
<rect x="147.92" y="444.10" width="2.8" height="2.8" fill="#1a1a1a"/>
<rect x="159.78" y="424.85" width="2.8" height="2.8" fill="#1a1a1a"/>
<rect x="171.64" y="417.85" width="2.8" height="2.8" fill="#1a1a1a"/>
<rect x="183.49" y="408.60" width="2.8" height="2.8" fill="#1a1a1a"/>
<rect x="195.35" y="406.85" width="2.8" height="2.8" fill="#1a1a1a"/>
<text x="154.4" y="397" font-size="9.6" text-anchor="middle" font-weight="normal" >RUNX1</text>
<line x1="230.5" y1="399.5" x2="230.5" y2="463.4" stroke="#1a1a1a" stroke-width="1.3"/>
<line x1="229.85" y1="462.75" x2="325" y2="462.75" stroke="#1a1a1a" stroke-width="1.3"/>
<line x1="227.5" y1="462.75" x2="230.5" y2="462.75" stroke="#1a1a1a" stroke-width="1.0"/>
<text x="227.9" y="465.85" font-size="9.4" text-anchor="end" font-weight="normal" >0</text>
<line x1="227.5" y1="447.1" x2="230.5" y2="447.1" stroke="#1a1a1a" stroke-width="1.0"/>
<text x="227.9" y="450.20000000000005" font-size="9.4" text-anchor="end" font-weight="normal" >50</text>
<line x1="227.5" y1="431.5" x2="230.5" y2="431.5" stroke="#1a1a1a" stroke-width="1.0"/>
<text x="227.9" y="434.6" font-size="9.4" text-anchor="end" font-weight="normal" >100</text>
<line x1="227.5" y1="415.9" x2="230.5" y2="415.9" stroke="#1a1a1a" stroke-width="1.0"/>
<text x="227.9" y="419.0" font-size="9.4" text-anchor="end" font-weight="normal" >150</text>
<line x1="227.5" y1="400.2" x2="230.5" y2="400.2" stroke="#1a1a1a" stroke-width="1.0"/>
<text x="227.9" y="403.3" font-size="9.4" text-anchor="end" font-weight="normal" >200</text>
<line x1="236.75" y1="462.75" x2="236.75" y2="465.25" stroke="#1a1a1a" stroke-width="1.0"/>
<text x="236.75" y="473.8" font-size="9.4" text-anchor="middle" font-weight="normal" >0</text>
<line x1="248.57142857142858" y1="462.75" x2="248.57142857142858" y2="465.25" stroke="#1a1a1a" stroke-width="1.0"/>
<text x="248.57142857142858" y="473.8" font-size="9.4" text-anchor="middle" font-weight="normal" >3</text>
<line x1="260.39285714285717" y1="462.75" x2="260.39285714285717" y2="465.25" stroke="#1a1a1a" stroke-width="1.0"/>
<text x="260.39285714285717" y="473.8" font-size="9.4" text-anchor="middle" font-weight="normal" >5</text>
<line x1="272.2142857142857" y1="462.75" x2="272.2142857142857" y2="465.25" stroke="#1a1a1a" stroke-width="1.0"/>
<text x="272.2142857142857" y="473.8" font-size="9.4" text-anchor="middle" font-weight="normal" >8</text>
<line x1="284.0357142857143" y1="462.75" x2="284.0357142857143" y2="465.25" stroke="#1a1a1a" stroke-width="1.0"/>
<text x="284.0357142857143" y="473.8" font-size="9.4" text-anchor="middle" font-weight="normal" >10</text>
<line x1="295.85714285714283" y1="462.75" x2="295.85714285714283" y2="465.25" stroke="#1a1a1a" stroke-width="1.0"/>
<text x="295.85714285714283" y="473.8" font-size="9.4" text-anchor="middle" font-weight="normal" >15</text>
<line x1="307.67857142857144" y1="462.75" x2="307.67857142857144" y2="465.25" stroke="#1a1a1a" stroke-width="1.0"/>
<text x="307.67857142857144" y="473.8" font-size="9.4" text-anchor="middle" font-weight="normal" >20</text>
<line x1="319.5" y1="462.75" x2="319.5" y2="465.25" stroke="#1a1a1a" stroke-width="1.0"/>
<text x="319.5" y="473.8" font-size="9.4" text-anchor="middle" font-weight="normal" >25</text>
<polyline points="236.75,462.50 248.57,462.50 260.39,458.75 272.21,452.00 284.04,429.50 295.86,431.25 307.68,416.25 319.50,436.25" fill="none" stroke="#1a1a1a" stroke-width="1.6" stroke-linejoin="round"/>
<rect x="235.35" y="461.10" width="2.8" height="2.8" fill="#1a1a1a"/>
<rect x="247.17" y="461.10" width="2.8" height="2.8" fill="#1a1a1a"/>
<rect x="258.99" y="457.35" width="2.8" height="2.8" fill="#1a1a1a"/>
<rect x="270.81" y="450.60" width="2.8" height="2.8" fill="#1a1a1a"/>
<rect x="282.64" y="428.10" width="2.8" height="2.8" fill="#1a1a1a"/>
<rect x="294.46" y="429.85" width="2.8" height="2.8" fill="#1a1a1a"/>
<rect x="306.28" y="414.85" width="2.8" height="2.8" fill="#1a1a1a"/>
<rect x="318.10" y="434.85" width="2.8" height="2.8" fill="#1a1a1a"/>
<text x="277.7" y="398.0" font-size="9.6" text-anchor="middle" font-weight="normal" >SCL</text>
<line x1="352.5" y1="400" x2="352.5" y2="463.9" stroke="#1a1a1a" stroke-width="1.3"/>
<line x1="351.85" y1="463.25" x2="447" y2="463.25" stroke="#1a1a1a" stroke-width="1.3"/>
<line x1="349.5" y1="463.25" x2="352.5" y2="463.25" stroke="#1a1a1a" stroke-width="1.0"/>
<text x="349.9" y="466.35" font-size="9.4" text-anchor="end" font-weight="normal" >0</text>
<line x1="349.5" y1="442.4" x2="352.5" y2="442.4" stroke="#1a1a1a" stroke-width="1.0"/>
<text x="349.9" y="445.5" font-size="9.4" text-anchor="end" font-weight="normal" >40</text>
<line x1="349.5" y1="421.5" x2="352.5" y2="421.5" stroke="#1a1a1a" stroke-width="1.0"/>
<text x="349.9" y="424.6" font-size="9.4" text-anchor="end" font-weight="normal" >80</text>
<line x1="349.5" y1="400.6" x2="352.5" y2="400.6" stroke="#1a1a1a" stroke-width="1.0"/>
<text x="349.9" y="403.70000000000005" font-size="9.4" text-anchor="end" font-weight="normal" >120</text>
<line x1="358.75" y1="463.25" x2="358.75" y2="465.75" stroke="#1a1a1a" stroke-width="1.0"/>
<text x="358.75" y="473.8" font-size="9.4" text-anchor="middle" font-weight="normal" >0</text>
<line x1="370.60714285714283" y1="463.25" x2="370.60714285714283" y2="465.75" stroke="#1a1a1a" stroke-width="1.0"/>
<text x="370.60714285714283" y="473.8" font-size="9.4" text-anchor="middle" font-weight="normal" >3</text>
<line x1="382.4642857142857" y1="463.25" x2="382.4642857142857" y2="465.75" stroke="#1a1a1a" stroke-width="1.0"/>
<text x="382.4642857142857" y="473.8" font-size="9.4" text-anchor="middle" font-weight="normal" >5</text>
<line x1="394.32142857142856" y1="463.25" x2="394.32142857142856" y2="465.75" stroke="#1a1a1a" stroke-width="1.0"/>
<text x="394.32142857142856" y="473.8" font-size="9.4" text-anchor="middle" font-weight="normal" >8</text>
<line x1="406.17857142857144" y1="463.25" x2="406.17857142857144" y2="465.75" stroke="#1a1a1a" stroke-width="1.0"/>
<text x="406.17857142857144" y="473.8" font-size="9.4" text-anchor="middle" font-weight="normal" >10</text>
<line x1="418.0357142857143" y1="463.25" x2="418.0357142857143" y2="465.75" stroke="#1a1a1a" stroke-width="1.0"/>
<text x="418.0357142857143" y="473.8" font-size="9.4" text-anchor="middle" font-weight="normal" >15</text>
<line x1="429.8928571428571" y1="463.25" x2="429.8928571428571" y2="465.75" stroke="#1a1a1a" stroke-width="1.0"/>
<text x="429.8928571428571" y="473.8" font-size="9.4" text-anchor="middle" font-weight="normal" >20</text>
<line x1="441.75" y1="463.25" x2="441.75" y2="465.75" stroke="#1a1a1a" stroke-width="1.0"/>
<text x="441.75" y="473.8" font-size="9.4" text-anchor="middle" font-weight="normal" >25</text>
<polyline points="358.75,463.00 370.61,463.00 382.46,463.00 394.32,462.80 406.18,460.50 418.04,449.50 429.89,401.25 441.75,416.25" fill="none" stroke="#1a1a1a" stroke-width="1.6" stroke-linejoin="round"/>
<rect x="357.35" y="461.60" width="2.8" height="2.8" fill="#1a1a1a"/>
<rect x="369.21" y="461.60" width="2.8" height="2.8" fill="#1a1a1a"/>
<rect x="381.06" y="461.60" width="2.8" height="2.8" fill="#1a1a1a"/>
<rect x="392.92" y="461.40" width="2.8" height="2.8" fill="#1a1a1a"/>
<rect x="404.78" y="459.10" width="2.8" height="2.8" fill="#1a1a1a"/>
<rect x="416.64" y="448.10" width="2.8" height="2.8" fill="#1a1a1a"/>
<rect x="428.49" y="399.85" width="2.8" height="2.8" fill="#1a1a1a"/>
<rect x="440.35" y="414.85" width="2.8" height="2.8" fill="#1a1a1a"/>
<text x="399.2" y="398.0" font-size="9.6" text-anchor="middle" font-weight="normal" >PU.1</text>
<line x1="106" y1="497.5" x2="106" y2="561.65" stroke="#1a1a1a" stroke-width="1.3"/>
<line x1="105.35" y1="561" x2="201.25" y2="561" stroke="#1a1a1a" stroke-width="1.3"/>
<line x1="103" y1="561" x2="106" y2="561" stroke="#1a1a1a" stroke-width="1.0"/>
<text x="103.4" y="564.1" font-size="9.4" text-anchor="end" font-weight="normal" >0</text>
<line x1="103" y1="547" x2="106" y2="547" stroke="#1a1a1a" stroke-width="1.0"/>
<text x="103.4" y="550.1" font-size="9.4" text-anchor="end" font-weight="normal" >20</text>
<line x1="103" y1="533" x2="106" y2="533" stroke="#1a1a1a" stroke-width="1.0"/>
<text x="103.4" y="536.1" font-size="9.4" text-anchor="end" font-weight="normal" >40</text>
<line x1="103" y1="519" x2="106" y2="519" stroke="#1a1a1a" stroke-width="1.0"/>
<text x="103.4" y="522.1" font-size="9.4" text-anchor="end" font-weight="normal" >60</text>
<line x1="103" y1="505.2" x2="106" y2="505.2" stroke="#1a1a1a" stroke-width="1.0"/>
<text x="103.4" y="508.3" font-size="9.4" text-anchor="end" font-weight="normal" >80</text>
<line x1="111.6" y1="561" x2="111.6" y2="563.5" stroke="#1a1a1a" stroke-width="1.0"/>
<text x="111.6" y="571.8" font-size="9.4" text-anchor="middle" font-weight="normal" >0</text>
<line x1="123.5142857142857" y1="561" x2="123.5142857142857" y2="563.5" stroke="#1a1a1a" stroke-width="1.0"/>
<text x="123.5142857142857" y="571.8" font-size="9.4" text-anchor="middle" font-weight="normal" >3</text>
<line x1="135.42857142857142" y1="561" x2="135.42857142857142" y2="563.5" stroke="#1a1a1a" stroke-width="1.0"/>
<text x="135.42857142857142" y="571.8" font-size="9.4" text-anchor="middle" font-weight="normal" >5</text>
<line x1="147.34285714285716" y1="561" x2="147.34285714285716" y2="563.5" stroke="#1a1a1a" stroke-width="1.0"/>
<text x="147.34285714285716" y="571.8" font-size="9.4" text-anchor="middle" font-weight="normal" >8</text>
<line x1="159.25714285714287" y1="561" x2="159.25714285714287" y2="563.5" stroke="#1a1a1a" stroke-width="1.0"/>
<text x="159.25714285714287" y="571.8" font-size="9.4" text-anchor="middle" font-weight="normal" >10</text>
<line x1="171.17142857142858" y1="561" x2="171.17142857142858" y2="563.5" stroke="#1a1a1a" stroke-width="1.0"/>
<text x="171.17142857142858" y="571.8" font-size="9.4" text-anchor="middle" font-weight="normal" >15</text>
<line x1="183.0857142857143" y1="561" x2="183.0857142857143" y2="563.5" stroke="#1a1a1a" stroke-width="1.0"/>
<text x="183.0857142857143" y="571.8" font-size="9.4" text-anchor="middle" font-weight="normal" >20</text>
<line x1="195.0" y1="561" x2="195.0" y2="563.5" stroke="#1a1a1a" stroke-width="1.0"/>
<text x="195.0" y="571.8" font-size="9.4" text-anchor="middle" font-weight="normal" >25</text>
<polyline points="111.60,560.50 123.51,561.00 135.43,560.00 147.34,557.00 159.26,539.50 171.17,509.25 183.09,505.50 195.00,500.00" fill="none" stroke="#1a1a1a" stroke-width="1.6" stroke-linejoin="round"/>
<rect x="110.20" y="559.10" width="2.8" height="2.8" fill="#1a1a1a"/>
<rect x="122.11" y="559.60" width="2.8" height="2.8" fill="#1a1a1a"/>
<rect x="134.03" y="558.60" width="2.8" height="2.8" fill="#1a1a1a"/>
<rect x="145.94" y="555.60" width="2.8" height="2.8" fill="#1a1a1a"/>
<rect x="157.86" y="538.10" width="2.8" height="2.8" fill="#1a1a1a"/>
<rect x="169.77" y="507.85" width="2.8" height="2.8" fill="#1a1a1a"/>
<rect x="181.69" y="504.10" width="2.8" height="2.8" fill="#1a1a1a"/>
<rect x="193.60" y="498.60" width="2.8" height="2.8" fill="#1a1a1a"/>
<text x="153.7" y="498.7" font-size="9.6" text-anchor="middle" font-weight="normal" >miR-126</text>
<line x1="231.25" y1="497.5" x2="231.25" y2="561.15" stroke="#1a1a1a" stroke-width="1.3"/>
<line x1="230.6" y1="560.5" x2="325" y2="560.5" stroke="#1a1a1a" stroke-width="1.3"/>
<line x1="228.25" y1="560.5" x2="231.25" y2="560.5" stroke="#1a1a1a" stroke-width="1.0"/>
<text x="228.65" y="563.6" font-size="9.4" text-anchor="end" font-weight="normal" >0</text>
<line x1="228.25" y1="544.9" x2="231.25" y2="544.9" stroke="#1a1a1a" stroke-width="1.0"/>
<text x="228.65" y="548.0" font-size="9.4" text-anchor="end" font-weight="normal" >20</text>
<line x1="228.25" y1="529.3" x2="231.25" y2="529.3" stroke="#1a1a1a" stroke-width="1.0"/>
<text x="228.65" y="532.4" font-size="9.4" text-anchor="end" font-weight="normal" >40</text>
<line x1="228.25" y1="513.7" x2="231.25" y2="513.7" stroke="#1a1a1a" stroke-width="1.0"/>
<text x="228.65" y="516.8000000000001" font-size="9.4" text-anchor="end" font-weight="normal" >60</text>
<line x1="228.25" y1="498.1" x2="231.25" y2="498.1" stroke="#1a1a1a" stroke-width="1.0"/>
<text x="228.65" y="501.20000000000005" font-size="9.4" text-anchor="end" font-weight="normal" >80</text>
<line x1="237.5" y1="560.5" x2="237.5" y2="563.0" stroke="#1a1a1a" stroke-width="1.0"/>
<text x="237.5" y="571.6" font-size="9.4" text-anchor="middle" font-weight="normal" >0</text>
<line x1="249.21428571428572" y1="560.5" x2="249.21428571428572" y2="563.0" stroke="#1a1a1a" stroke-width="1.0"/>
<text x="249.21428571428572" y="571.6" font-size="9.4" text-anchor="middle" font-weight="normal" >3</text>
<line x1="260.92857142857144" y1="560.5" x2="260.92857142857144" y2="563.0" stroke="#1a1a1a" stroke-width="1.0"/>
<text x="260.92857142857144" y="571.6" font-size="9.4" text-anchor="middle" font-weight="normal" >5</text>
<line x1="272.6428571428571" y1="560.5" x2="272.6428571428571" y2="563.0" stroke="#1a1a1a" stroke-width="1.0"/>
<text x="272.6428571428571" y="571.6" font-size="9.4" text-anchor="middle" font-weight="normal" >8</text>
<line x1="284.35714285714283" y1="560.5" x2="284.35714285714283" y2="563.0" stroke="#1a1a1a" stroke-width="1.0"/>
<text x="284.35714285714283" y="571.6" font-size="9.4" text-anchor="middle" font-weight="normal" >10</text>
<line x1="296.07142857142856" y1="560.5" x2="296.07142857142856" y2="563.0" stroke="#1a1a1a" stroke-width="1.0"/>
<text x="296.07142857142856" y="571.6" font-size="9.4" text-anchor="middle" font-weight="normal" >15</text>
<line x1="307.7857142857143" y1="560.5" x2="307.7857142857143" y2="563.0" stroke="#1a1a1a" stroke-width="1.0"/>
<text x="307.7857142857143" y="571.6" font-size="9.4" text-anchor="middle" font-weight="normal" >20</text>
<line x1="319.5" y1="560.5" x2="319.5" y2="563.0" stroke="#1a1a1a" stroke-width="1.0"/>
<text x="319.5" y="571.6" font-size="9.4" text-anchor="middle" font-weight="normal" >25</text>
<polyline points="237.50,560.00 249.21,560.50 260.93,559.50 272.64,555.75 284.36,543.75 296.07,516.25 307.79,508.25 319.50,502.50" fill="none" stroke="#1a1a1a" stroke-width="1.6" stroke-linejoin="round"/>
<rect x="236.10" y="558.60" width="2.8" height="2.8" fill="#1a1a1a"/>
<rect x="247.81" y="559.10" width="2.8" height="2.8" fill="#1a1a1a"/>
<rect x="259.53" y="558.10" width="2.8" height="2.8" fill="#1a1a1a"/>
<rect x="271.24" y="554.35" width="2.8" height="2.8" fill="#1a1a1a"/>
<rect x="282.96" y="542.35" width="2.8" height="2.8" fill="#1a1a1a"/>
<rect x="294.67" y="514.85" width="2.8" height="2.8" fill="#1a1a1a"/>
<rect x="306.39" y="506.85" width="2.8" height="2.8" fill="#1a1a1a"/>
<rect x="318.10" y="501.10" width="2.8" height="2.8" fill="#1a1a1a"/>
<text x="277.6" y="496.4" font-size="9.6" text-anchor="middle" font-weight="normal" >miR-126*</text>
<line x1="354.5" y1="497" x2="354.5" y2="560.65" stroke="#1a1a1a" stroke-width="1.3"/>
<line x1="353.85" y1="560" x2="448.75" y2="560" stroke="#1a1a1a" stroke-width="1.3"/>
<line x1="351.5" y1="560" x2="354.5" y2="560" stroke="#1a1a1a" stroke-width="1.0"/>
<text x="351.9" y="563.1" font-size="9.4" text-anchor="end" font-weight="normal" >0</text>
<line x1="351.5" y1="547.5" x2="354.5" y2="547.5" stroke="#1a1a1a" stroke-width="1.0"/>
<text x="351.9" y="550.6" font-size="9.4" text-anchor="end" font-weight="normal" >20</text>
<line x1="351.5" y1="535" x2="354.5" y2="535" stroke="#1a1a1a" stroke-width="1.0"/>
<text x="351.9" y="538.1" font-size="9.4" text-anchor="end" font-weight="normal" >40</text>
<line x1="351.5" y1="522.5" x2="354.5" y2="522.5" stroke="#1a1a1a" stroke-width="1.0"/>
<text x="351.9" y="525.6" font-size="9.4" text-anchor="end" font-weight="normal" >60</text>
<line x1="351.5" y1="510" x2="354.5" y2="510" stroke="#1a1a1a" stroke-width="1.0"/>
<text x="351.9" y="513.1" font-size="9.4" text-anchor="end" font-weight="normal" >80</text>
<line x1="351.5" y1="497.5" x2="354.5" y2="497.5" stroke="#1a1a1a" stroke-width="1.0"/>
<text x="351.9" y="500.6" font-size="9.4" text-anchor="end" font-weight="normal" >100</text>
<line x1="360.5" y1="560" x2="360.5" y2="562.5" stroke="#1a1a1a" stroke-width="1.0"/>
<text x="360.5" y="571.5" font-size="9.4" text-anchor="middle" font-weight="normal" >0</text>
<line x1="372.39285714285717" y1="560" x2="372.39285714285717" y2="562.5" stroke="#1a1a1a" stroke-width="1.0"/>
<text x="372.39285714285717" y="571.5" font-size="9.4" text-anchor="middle" font-weight="normal" >3</text>
<line x1="384.2857142857143" y1="560" x2="384.2857142857143" y2="562.5" stroke="#1a1a1a" stroke-width="1.0"/>
<text x="384.2857142857143" y="571.5" font-size="9.4" text-anchor="middle" font-weight="normal" >5</text>
<line x1="396.17857142857144" y1="560" x2="396.17857142857144" y2="562.5" stroke="#1a1a1a" stroke-width="1.0"/>
<text x="396.17857142857144" y="571.5" font-size="9.4" text-anchor="middle" font-weight="normal" >8</text>
<line x1="408.07142857142856" y1="560" x2="408.07142857142856" y2="562.5" stroke="#1a1a1a" stroke-width="1.0"/>
<text x="408.07142857142856" y="571.5" font-size="9.4" text-anchor="middle" font-weight="normal" >10</text>
<line x1="419.9642857142857" y1="560" x2="419.9642857142857" y2="562.5" stroke="#1a1a1a" stroke-width="1.0"/>
<text x="419.9642857142857" y="571.5" font-size="9.4" text-anchor="middle" font-weight="normal" >15</text>
<line x1="431.8571428571429" y1="560" x2="431.8571428571429" y2="562.5" stroke="#1a1a1a" stroke-width="1.0"/>
<text x="431.8571428571429" y="571.5" font-size="9.4" text-anchor="middle" font-weight="normal" >20</text>
<line x1="443.75" y1="560" x2="443.75" y2="562.5" stroke="#1a1a1a" stroke-width="1.0"/>
<text x="443.75" y="571.5" font-size="9.4" text-anchor="middle" font-weight="normal" >25</text>
<polyline points="360.50,559.50 372.39,556.25 384.29,558.00 396.18,558.75 408.07,558.25 419.96,541.25 431.86,501.25 443.75,518.00" fill="none" stroke="#1a1a1a" stroke-width="1.6" stroke-linejoin="round"/>
<rect x="359.10" y="558.10" width="2.8" height="2.8" fill="#1a1a1a"/>
<rect x="370.99" y="554.85" width="2.8" height="2.8" fill="#1a1a1a"/>
<rect x="382.89" y="556.60" width="2.8" height="2.8" fill="#1a1a1a"/>
<rect x="394.78" y="557.35" width="2.8" height="2.8" fill="#1a1a1a"/>
<rect x="406.67" y="556.85" width="2.8" height="2.8" fill="#1a1a1a"/>
<rect x="418.56" y="539.85" width="2.8" height="2.8" fill="#1a1a1a"/>
<rect x="430.46" y="499.85" width="2.8" height="2.8" fill="#1a1a1a"/>
<rect x="442.35" y="516.60" width="2.8" height="2.8" fill="#1a1a1a"/>
<text x="401.9" y="496.3" font-size="9.6" text-anchor="middle" font-weight="normal" >miR-223</text>
</svg>
</body></html>
